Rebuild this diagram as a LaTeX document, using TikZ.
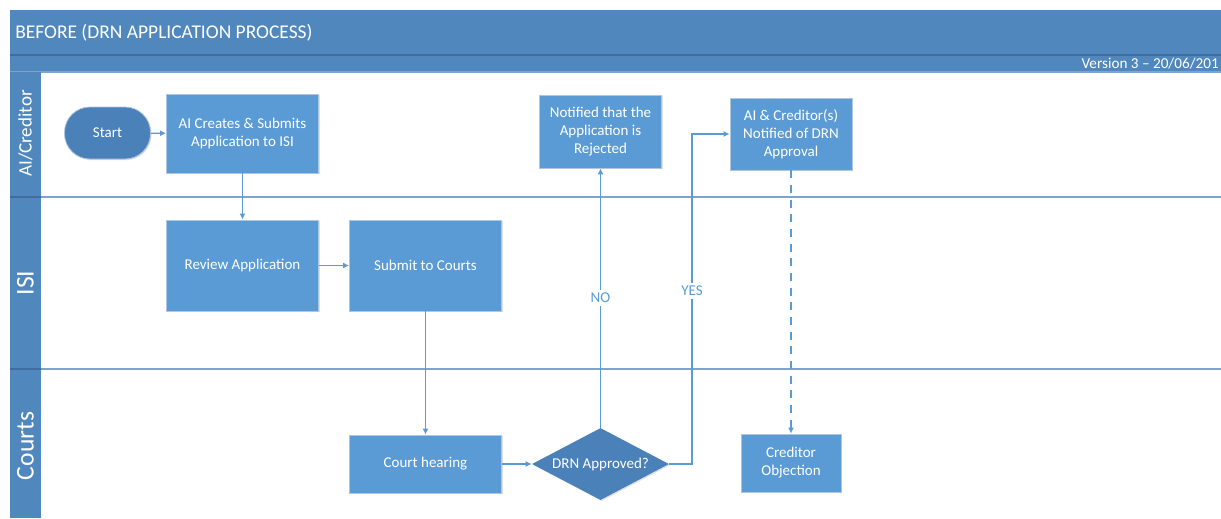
\documentclass[tikz,border=0pt]{standalone}
\usepackage{fontspec}
\setmainfont{Carlito}
\usetikzlibrary{arrows.meta,shapes.geometric,shadows}

\definecolor{boxblue}{HTML}{5B9BD5}
\definecolor{darkblue}{HTML}{4B81B9}
\definecolor{hdrblue}{HTML}{5087BC}
\definecolor{hdrline}{HTML}{3F6E9E}
\definecolor{laneline}{HTML}{7FA3CC}
\definecolor{boxedge}{HTML}{AFC6E2}

\tikzset{
  txt/.style={font=\fontsize{11.25}{13.5}\selectfont, text=white, align=center},
  procbox/.style={txt, rectangle, fill=boxblue, draw=boxedge, line width=0.6pt,
    inner sep=2pt,
    drop shadow={shadow xshift=0.8pt, shadow yshift=-0.8pt, opacity=0.25}},
  termbox/.style={txt, rectangle, rounded corners=19pt, fill=darkblue, draw=boxedge,
    line width=0.6pt,
    drop shadow={shadow xshift=0.8pt, shadow yshift=-0.8pt, opacity=0.25}},
  decbox/.style={txt, diamond, fill=darkblue, inner sep=0pt, shape aspect=1.9,
    minimum width=102.75pt, minimum height=54pt,
    drop shadow={shadow xshift=0.8pt, shadow yshift=-0.8pt, opacity=0.25}},
  flow/.style={draw=boxblue, line width=0.9pt, -{Latex[length=4.5pt,width=4.5pt]}},
  flowlabel/.style={font=\fontsize{11.25}{13.5}\selectfont, text=boxblue, fill=white,
    inner sep=2pt},
  lanetitle/.style={text=white, rotate=90},
  lanesep/.style={draw=laneline, line width=1.1pt}
}

\begin{document}
\begin{tikzpicture}[x=0.75pt, y=-0.75pt]
  \useasboundingbox (0,0) rectangle (1221,518);
  \fill[white] (0,0) rectangle (1221,518);

  % title band and version band
  \fill[hdrblue] (10,10) rectangle (1221,72);
  \draw[hdrline, line width=0.9pt] (10,55) -- (1221,55);
  \draw[laneline, line width=1.1pt] (10,72) -- (1221,72);
  \node[anchor=west, text=white, font=\fontsize{14.6}{16}\selectfont, inner sep=0pt] (title)
    at (15,33) {BEFORE (DRN APPLICATION PROCESS)};
  \node[anchor=east, text=white, font=\fontsize{11.4}{13}\selectfont, inner sep=0pt]
    (version) at (1219,63.5) {Version 3 – 20/06/201};

  % lane label column
  \fill[hdrblue] (10,72) rectangle (41,518);
  \draw[hdrline, line width=0.9pt] (10,197) -- (41,197);
  \draw[hdrline, line width=0.9pt] (10,369) -- (41,369);
  \node[lanetitle, font=\fontsize{14.3}{16}\selectfont] (laneA) at (25.5,133.5) {AI/Creditor};
  \node[lanetitle, font=\fontsize{19.2}{22}\selectfont] (laneB) at (25.5,283) {ISI};
  \node[lanetitle, font=\fontsize{19.2}{22}\selectfont] (laneC) at (25.5,446) {Courts};

  % lane separators
  \draw[lanesep] (41,197) -- (1221,197);
  \draw[lanesep] (41,369) -- (1221,369);

  % steps
  \node[termbox, minimum width=64.5pt, minimum height=39pt] (start) at (107.5,133) {Start};
  \node[procbox, minimum width=114pt, minimum height=59.25pt] (create) at (242.5,133.5)
    {AI Creates \& Submits\\Application to ISI};
  \node[procbox, minimum width=114pt, minimum height=68.25pt] (review) at (242.5,265.5)
    {Review Application};
  \node[procbox, minimum width=114pt, minimum height=68.25pt] (submit) at (425.5,265.5)
    {Submit to Courts};
  \node[procbox, minimum width=114pt, minimum height=43.5pt] (hearing) at (425.5,464)
    {Court hearing};
  \node[decbox] (approved) at (600.5,464) {DRN Approved?};
  \node[procbox, minimum width=91.5pt, minimum height=54.75pt] (rejected) at (600.5,131.5)
    {Notified that the\\Application is\\Rejected};
  \node[procbox, minimum width=91.5pt, minimum height=54pt] (notified) at (791,134)
    {AI \& Creditor(s)\\Notified of DRN\\Approval};
  \node[procbox, minimum width=75pt, minimum height=43.5pt] (objection) at (791,463)
    {Creditor\\Objection};

  % connectors
  \draw[flow] (start) -- (create);
  \draw[flow] (create) -- (review);
  \draw[flow] (review) -- (submit);
  \draw[flow] (submit) -- (hearing);
  \draw[flow] (hearing) -- (approved);
  \draw[flow] (approved.north) -- (rejected.south);
  \node[flowlabel] (nolabel) at (600.5,298) {NO};
  \coordinate (yesbend) at (692,464);
  \draw[flow] (approved.east) -- (yesbend) |- (notified.west);
  \node[flowlabel] (yeslabel) at (692,291) {YES};
  \draw[flow, dash pattern=on 6pt off 5pt] (notified) -- (objection);
\end{tikzpicture}
\end{document}
